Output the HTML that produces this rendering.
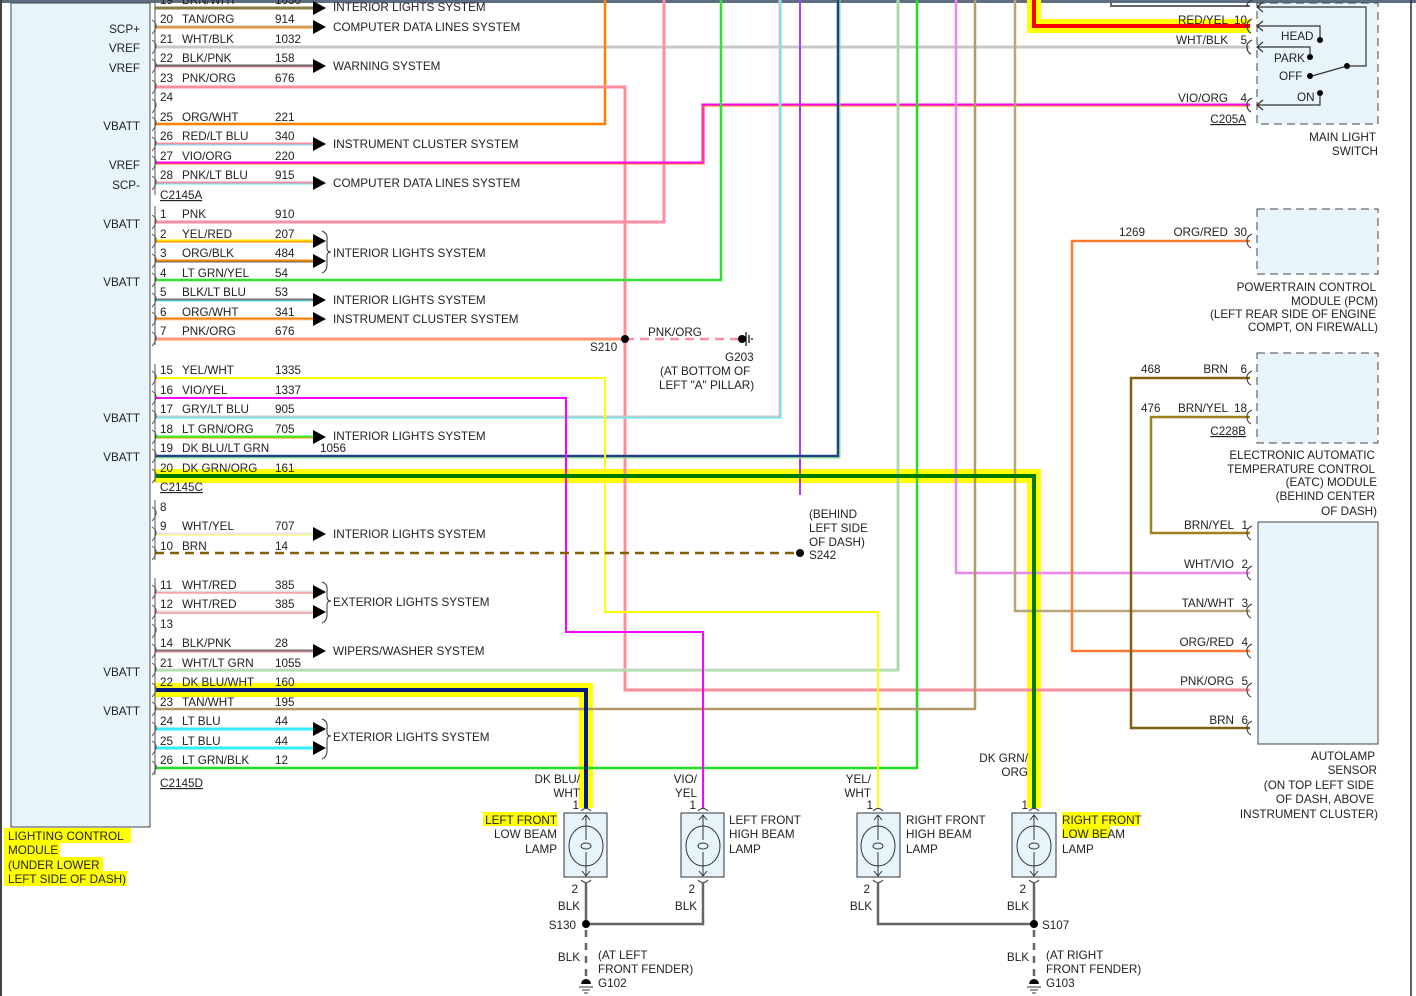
<!DOCTYPE html>
<html><head><meta charset="utf-8"><style>
html,body{margin:0;padding:0;background:#fff;}
svg{display:block;}
text{font-family:"Liberation Sans",sans-serif;font-size:11.7px;fill:#222;white-space:pre;}
.r{text-anchor:end;}
</style></head><body>
<svg width="1416" height="996" viewBox="0 0 1416 996" xmlns="http://www.w3.org/2000/svg" xml:space="preserve">
<rect x="0" y="0" width="1416" height="996" fill="#fff"/>
<rect x="0" y="0" width="1416" height="3" fill="#5c6e80"/>
<rect x="0" y="0" width="2" height="996" fill="#444"/>
<line x1="1411" y1="0" x2="1411" y2="996" stroke="#333" stroke-width="1.5"/>
<rect x="11" y="3" width="139" height="824" fill="#e8f4fb" stroke="#444" stroke-width="1"/>
<g class="r">
<text x="140" y="33" class="r">SCP+</text>
<text x="140" y="52" class="r">VREF</text>
<text x="140" y="72" class="r">VREF</text>
<text x="140" y="130" class="r">VBATT</text>
<text x="140" y="169" class="r">VREF</text>
<text x="140" y="189" class="r">SCP-</text>
<text x="140" y="228" class="r">VBATT</text>
<text x="140" y="286" class="r">VBATT</text>
<text x="140" y="422" class="r">VBATT</text>
<text x="140" y="461" class="r">VBATT</text>
<text x="140" y="676" class="r">VBATT</text>
<text x="140" y="715" class="r">VBATT</text>
</g>
<rect x="4" y="828" width="127" height="15" fill="#ffff00"/>
<rect x="4" y="843" width="56" height="14" fill="#ffff00"/>
<rect x="4" y="857" width="99" height="14" fill="#ffff00"/>
<rect x="4" y="871" width="123" height="15" fill="#ffff00"/>
<text x="8" y="840">LIGHTING CONTROL</text>
<text x="8" y="854">MODULE</text>
<text x="8" y="869">(UNDER LOWER</text>
<text x="8" y="883">LEFT SIDE OF DASH)</text>

<path d="M1034,0 V26 H1250" fill="none" stroke="#ffff00" stroke-width="14"/>
<path d="M1034,0 V26 H1250" fill="none" stroke="#ff0000" stroke-width="4"/>
<path d="M155,476 H1034 V808" fill="none" stroke="#ffff00" stroke-width="14"/>
<path d="M155,690 H586 V808" fill="none" stroke="#ffff00" stroke-width="14"/>

<path d="M1111,0 V6 H1250" fill="none" stroke="#666" stroke-width="2"/>
<path d="M155,47 H1250" stroke="#c8c8c8" stroke-width="3"/>
<path d="M155,124 H605 V0" fill="none" stroke="#ff8000" stroke-width="2.5"/>
<path d="M155,87 H625 V690 H1250" fill="none" stroke="#ff8c9c" stroke-width="3"/>
<path d="M155,222 H664 V0" fill="none" stroke="#ff8ca0" stroke-width="3"/>
<path d="M155,163 H703 V105 H1250" fill="none" stroke="#ff00ff" stroke-width="3"/>
<path d="M155,164 H703 V106 H1250" fill="none" stroke="#ff8000" stroke-width="1"/>
<path d="M155,280 H721 V0" fill="none" stroke="#33e033" stroke-width="2.5"/>
<path d="M155,417 H780 V0" fill="none" stroke="#c8c8c8" stroke-width="3"/>
<path d="M155,418 H781 V0" fill="none" stroke="#55eeff" stroke-width="1.2"/>
<path d="M800,0 V495" fill="none" stroke="#a040ff" stroke-width="2"/>
<path d="M155,456 H838 V0" fill="none" stroke="#223f88" stroke-width="2.5"/>
<path d="M155,458 H840 V0" fill="none" stroke="#77ee77" stroke-width="1"/>
<path d="M155,670 H898 V0" fill="none" stroke="#d0d0d0" stroke-width="3"/>
<path d="M155,671 H898" fill="none" stroke="#88ee88" stroke-width="1"/>
<path d="M898,0 V670" fill="none" stroke="#66ee66" stroke-width="1"/>
<path d="M155,768 H917 V0" fill="none" stroke="#22dd22" stroke-width="2.5"/>
<path d="M956,0 V573 H1250" fill="none" stroke="#ee88ee" stroke-width="2.5"/>
<path d="M155,709 H975 V0" fill="none" stroke="#b09a68" stroke-width="2.5"/>
<path d="M1015,0 V611 H1250" fill="none" stroke="#b8a478" stroke-width="2.5"/>
<path d="M1250,241 H1072 V651 H1250" fill="none" stroke="#ff7a30" stroke-width="2.5"/>
<path d="M1250,378 H1131 V728 H1250" fill="none" stroke="#806010" stroke-width="2.5"/>
<path d="M1250,417 H1151 V533 H1250" fill="none" stroke="#a08018" stroke-width="2.5"/>
<path d="M155,378 H605 V612 H878 V808" fill="none" stroke="#ffff00" stroke-width="2"/>
<path d="M155,398 H566 V632 H703 V808" fill="none" stroke="#ff00ff" stroke-width="2"/>
<path d="M155,339 H625" stroke="#ff9090" stroke-width="3"/>
<path d="M155,340 H625" stroke="#ff9a40" stroke-width="1"/>
<path d="M625,339 H742" stroke="#ff8ca0" stroke-width="2.5" stroke-dasharray="9,6"/>
<path d="M155,553 H800" stroke="#806000" stroke-width="2.5" stroke-dasharray="9,6"/>
<path d="M155,476 H1034 V808" fill="none" stroke="#007a00" stroke-width="4"/>
<path d="M155,690 H586 V808" fill="none" stroke="#001a80" stroke-width="4"/>

<g stroke-width="3">
<path d="M155,8 H313" stroke="#8a7a40"/>
<path d="M155,27 H313" stroke="#c8a878"/><path d="M155,28 H313" stroke="#ff8000" stroke-width="1"/>
<path d="M155,66 H313" stroke="#666"/><path d="M155,67 H313" stroke="#ff8ca0" stroke-width="1"/>
<path d="M155,144 H313" stroke="#ff8ca0"/><path d="M155,145 H313" stroke="#66eeff" stroke-width="1"/>
<path d="M155,183 H313" stroke="#ff8ca0"/><path d="M155,184 H313" stroke="#55eeff" stroke-width="1"/>
<path d="M155,241 H313" stroke="#ffdd00"/><path d="M155,242 H313" stroke="#ff8000" stroke-width="1"/>
<path d="M155,261 H313" stroke="#ff8000"/><path d="M155,262 H313" stroke="#666" stroke-width="1"/>
<path d="M155,300 H313" stroke="#777"/><path d="M155,301 H313" stroke="#55eeff" stroke-width="1"/>
<path d="M155,319 H313" stroke="#ff8000"/><path d="M155,320 H313" stroke="#ffd0a0" stroke-width="1"/>
<path d="M155,437 H313" stroke="#33ee33"/><path d="M155,438 H313" stroke="#ff9000" stroke-width="1"/>
<path d="M155,534 H313" stroke="#e8e8e8"/><path d="M155,535 H313" stroke="#ffff60" stroke-width="1"/>
<path d="M155,592 H313" stroke="#e0e0e0"/><path d="M155,593 H313" stroke="#ff7070" stroke-width="1"/>
<path d="M155,612 H313" stroke="#e0e0e0"/><path d="M155,613 H313" stroke="#ff7070" stroke-width="1"/>
<path d="M155,651 H313" stroke="#777"/><path d="M155,652 H313" stroke="#ff8ca0" stroke-width="1"/>
<path d="M155,729 H313" stroke="#33eeff"/>
<path d="M155,748 H313" stroke="#33eeff"/>
</g>
<g fill="#000">
<polygon points="313,1 326,8 313,15"/>
<polygon points="313,20 326,27 313,34"/>
<polygon points="313,59 326,66 313,73"/>
<polygon points="313,137 326,144 313,151"/>
<polygon points="313,176 326,183 313,190"/>
<polygon points="313,234 326,241 313,248"/>
<polygon points="313,254 326,261 313,268"/>
<polygon points="313,293 326,300 313,307"/>
<polygon points="313,312 326,319 313,326"/>
<polygon points="313,430 326,437 313,444"/>
<polygon points="313,527 326,534 313,541"/>
<polygon points="313,585 326,592 313,599"/>
<polygon points="313,605 326,612 313,619"/>
<polygon points="313,644 326,651 313,658"/>
<polygon points="313,722 326,729 313,736"/>
<polygon points="313,741 326,748 313,755"/>
</g>
<g fill="none" stroke="#333" stroke-width="1">
<path d="M322,231 Q328,233 327,240 L327,248 Q327,252 331,252 Q327,252 327,256 L327,265 Q327,271 322,273"/>
<path d="M322,582 Q328,584 327,591 L327,597 Q327,601 331,601 Q327,601 327,605 L327,615 Q327,621 322,623"/>
<path d="M322,719 Q328,721 327,728 L327,732 Q327,736 331,736 Q327,736 327,740 L327,751 Q327,757 322,759"/>
</g>
<g fill="none" stroke="#555" stroke-width="1">
<path d="M155,3 V195 M155,206 V345 M155,364 V482 M155,500 V560 M155,578 V775"/>
</g>
<g fill="none" stroke="#555" stroke-width="1">
<path d="M152,20 q5,3 4,7 q-1,4 -4,7"/><path d="M152,40 q5,3 4,7 q-1,4 -4,7"/><path d="M152,59 q5,3 4,7 q-1,4 -4,7"/><path d="M152,80 q5,3 4,7 q-1,4 -4,7"/><path d="M152,99 q5,3 4,7 q-1,4 -4,7"/><path d="M152,117 q5,3 4,7 q-1,4 -4,7"/><path d="M152,137 q5,3 4,7 q-1,4 -4,7"/><path d="M152,156 q5,3 4,7 q-1,4 -4,7"/><path d="M152,176 q5,3 4,7 q-1,4 -4,7"/>
<path d="M152,215 q5,3 4,7 q-1,4 -4,7"/><path d="M152,234 q5,3 4,7 q-1,4 -4,7"/><path d="M152,254 q5,3 4,7 q-1,4 -4,7"/><path d="M152,273 q5,3 4,7 q-1,4 -4,7"/><path d="M152,293 q5,3 4,7 q-1,4 -4,7"/><path d="M152,312 q5,3 4,7 q-1,4 -4,7"/><path d="M152,332 q5,3 4,7 q-1,4 -4,7"/>
<path d="M152,371 q5,3 4,7 q-1,4 -4,7"/><path d="M152,391 q5,3 4,7 q-1,4 -4,7"/><path d="M152,410 q5,3 4,7 q-1,4 -4,7"/><path d="M152,430 q5,3 4,7 q-1,4 -4,7"/><path d="M152,449 q5,3 4,7 q-1,4 -4,7"/><path d="M152,469 q5,3 4,7 q-1,4 -4,7"/>
<path d="M152,507 q5,3 4,7 q-1,4 -4,7"/><path d="M152,527 q5,3 4,7 q-1,4 -4,7"/><path d="M152,546 q5,3 4,7 q-1,4 -4,7"/>
<path d="M152,585 q5,3 4,7 q-1,4 -4,7"/><path d="M152,605 q5,3 4,7 q-1,4 -4,7"/><path d="M152,624 q5,3 4,7 q-1,4 -4,7"/><path d="M152,644 q5,3 4,7 q-1,4 -4,7"/><path d="M152,663 q5,3 4,7 q-1,4 -4,7"/><path d="M152,683 q5,3 4,7 q-1,4 -4,7"/><path d="M152,702 q5,3 4,7 q-1,4 -4,7"/><path d="M152,722 q5,3 4,7 q-1,4 -4,7"/><path d="M152,741 q5,3 4,7 q-1,4 -4,7"/><path d="M152,761 q5,3 4,7 q-1,4 -4,7"/>
</g>

<g>
<text x="160" y="4">19</text><text x="182" y="4">BRN/WHT</text><text x="275" y="4">1030</text>
<text x="160" y="23">20</text><text x="182" y="23">TAN/ORG</text><text x="275" y="23">914</text>
<text x="160" y="43">21</text><text x="182" y="43">WHT/BLK</text><text x="275" y="43">1032</text>
<text x="160" y="62">22</text><text x="182" y="62">BLK/PNK</text><text x="275" y="62">158</text>
<text x="160" y="82">23</text><text x="182" y="82">PNK/ORG</text><text x="275" y="82">676</text>
<text x="160" y="101">24</text>
<text x="160" y="121">25</text><text x="182" y="121">ORG/WHT</text><text x="275" y="121">221</text>
<text x="160" y="140">26</text><text x="182" y="140">RED/LT BLU</text><text x="275" y="140">340</text>
<text x="160" y="160">27</text><text x="182" y="160">VIO/ORG</text><text x="275" y="160">220</text>
<text x="160" y="179">28</text><text x="182" y="179">PNK/LT BLU</text><text x="275" y="179">915</text>
<text x="160" y="199" text-decoration="underline">C2145A</text>
<text x="160" y="218">1</text><text x="182" y="218">PNK</text><text x="275" y="218">910</text>
<text x="160" y="238">2</text><text x="182" y="238">YEL/RED</text><text x="275" y="238">207</text>
<text x="160" y="257">3</text><text x="182" y="257">ORG/BLK</text><text x="275" y="257">484</text>
<text x="160" y="277">4</text><text x="182" y="277">LT GRN/YEL</text><text x="275" y="277">54</text>
<text x="160" y="296">5</text><text x="182" y="296">BLK/LT BLU</text><text x="275" y="296">53</text>
<text x="160" y="316">6</text><text x="182" y="316">ORG/WHT</text><text x="275" y="316">341</text>
<text x="160" y="335">7</text><text x="182" y="335">PNK/ORG</text><text x="275" y="335">676</text>
<text x="160" y="374">15</text><text x="182" y="374">YEL/WHT</text><text x="275" y="374">1335</text>
<text x="160" y="394">16</text><text x="182" y="394">VIO/YEL</text><text x="275" y="394">1337</text>
<text x="160" y="413">17</text><text x="182" y="413">GRY/LT BLU</text><text x="275" y="413">905</text>
<text x="160" y="433">18</text><text x="182" y="433">LT GRN/ORG</text><text x="275" y="433">705</text>
<text x="160" y="452">19</text><text x="182" y="452">DK BLU/LT GRN</text><text x="320" y="452">1056</text>
<text x="160" y="472">20</text><text x="182" y="472">DK GRN/ORG</text><text x="275" y="472">161</text>
<text x="160" y="491" text-decoration="underline">C2145C</text>
<text x="160" y="511">8</text>
<text x="160" y="530">9</text><text x="182" y="530">WHT/YEL</text><text x="275" y="530">707</text>
<text x="160" y="550">10</text><text x="182" y="550">BRN</text><text x="275" y="550">14</text>
<text x="160" y="589">11</text><text x="182" y="589">WHT/RED</text><text x="275" y="589">385</text>
<text x="160" y="608">12</text><text x="182" y="608">WHT/RED</text><text x="275" y="608">385</text>
<text x="160" y="628">13</text>
<text x="160" y="647">14</text><text x="182" y="647">BLK/PNK</text><text x="275" y="647">28</text>
<text x="160" y="667">21</text><text x="182" y="667">WHT/LT GRN</text><text x="275" y="667">1055</text>
<text x="160" y="686">22</text><text x="182" y="686">DK BLU/WHT</text><text x="275" y="686">160</text>
<text x="160" y="706">23</text><text x="182" y="706">TAN/WHT</text><text x="275" y="706">195</text>
<text x="160" y="725">24</text><text x="182" y="725">LT BLU</text><text x="275" y="725">44</text>
<text x="160" y="745">25</text><text x="182" y="745">LT BLU</text><text x="275" y="745">44</text>
<text x="160" y="764">26</text><text x="182" y="764">LT GRN/BLK</text><text x="275" y="764">12</text>
<text x="160" y="787" text-decoration="underline">C2145D</text>
</g>
<g>
<text x="333" y="11">INTERIOR LIGHTS SYSTEM</text>
<text x="333" y="31">COMPUTER DATA LINES SYSTEM</text>
<text x="333" y="70">WARNING SYSTEM</text>
<text x="333" y="148">INSTRUMENT CLUSTER SYSTEM</text>
<text x="333" y="187">COMPUTER DATA LINES SYSTEM</text>
<text x="333" y="257">INTERIOR LIGHTS SYSTEM</text>
<text x="333" y="304">INTERIOR LIGHTS SYSTEM</text>
<text x="333" y="323">INSTRUMENT CLUSTER SYSTEM</text>
<text x="333" y="440">INTERIOR LIGHTS SYSTEM</text>
<text x="333" y="538">INTERIOR LIGHTS SYSTEM</text>
<text x="333" y="606">EXTERIOR LIGHTS SYSTEM</text>
<text x="333" y="655">WIPERS/WASHER SYSTEM</text>
<text x="333" y="741">EXTERIOR LIGHTS SYSTEM</text>
</g>

<circle cx="625" cy="339" r="4" fill="#000"/>
<text x="590" y="351">S210</text>
<text x="648" y="336">PNK/ORG</text>
<circle cx="742" cy="339" r="4" fill="#000"/>
<path d="M746,332 V346 M749,335 V343 M752,338 V340" stroke="#000" stroke-width="1.2"/>
<text x="725" y="361">G203</text>
<text x="660" y="375">(AT BOTTOM OF</text>
<text x="659" y="389">LEFT "A" PILLAR)</text>
<circle cx="800" cy="553" r="4" fill="#000"/>
<text x="809" y="518">(BEHIND</text>
<text x="809" y="532">LEFT SIDE</text>
<text x="809" y="546">OF DASH)</text>
<text x="809" y="559">S242</text>

<rect x="1257" y="3" width="121" height="121" fill="#e8f4fb" stroke="#444" stroke-dasharray="8,5"/>
<g fill="none" stroke="#333" stroke-width="1.2">
<path d="M1257,7 H1366 V66 H1347 L1312,76"/>
<path d="M1257,26 H1320 V39"/>
<path d="M1257,47 H1310 V57"/>
<path d="M1257,105 H1320 V93"/>
<path d="M1263,2 L1257,7 L1263,12 M1263,21 L1257,26 L1263,31 M1263,42 L1257,47 L1263,52 M1263,100 L1257,105 L1263,110"/>
<path d="M1252,0 q-6,3 -5,7 M1252,19 q-6,3 -5,7 q0,5 4,7 M1252,40 q-6,3 -5,7 q0,5 4,7 M1252,98 q-6,3 -5,7 q0,5 4,7"/>
</g>
<g fill="#000"><circle cx="1320" cy="40" r="3"/><circle cx="1310" cy="57" r="3"/><circle cx="1310" cy="76" r="3"/><circle cx="1347" cy="66" r="3"/><circle cx="1320" cy="93" r="3"/></g>
<text x="1281" y="40">HEAD</text>
<text x="1274" y="62">PARK</text>
<text x="1279" y="80">OFF</text>
<text x="1297" y="101">ON</text>
<text x="1228" y="24" class="r">RED/YEL</text><text x="1247" y="24" class="r">10</text>
<text x="1228" y="44" class="r">WHT/BLK</text><text x="1247" y="44" class="r">5</text>
<text x="1228" y="102" class="r">VIO/ORG</text><text x="1247" y="102" class="r">4</text>
<text x="1246" y="123" class="r" text-decoration="underline">C205A</text>
<text x="1376" y="141" class="r">MAIN LIGHT</text>
<text x="1378" y="155" class="r">SWITCH</text>

<rect x="1257" y="209" width="121" height="65" fill="#e8f4fb" stroke="#444" stroke-dasharray="8,5"/>
<path d="M1252,234 q-6,3 -5,7 q0,5 4,7" fill="none" stroke="#333"/>
<text x="1119" y="236">1269</text>
<text x="1228" y="236" class="r">ORG/RED</text><text x="1247" y="236" class="r">30</text>
<text x="1376" y="291" class="r">POWERTRAIN CONTROL</text>
<text x="1378" y="305" class="r">MODULE (PCM)</text>
<text x="1376" y="318" class="r">(LEFT REAR SIDE OF ENGINE</text>
<text x="1378" y="331" class="r">COMPT, ON FIREWALL)</text>

<rect x="1257" y="353" width="121" height="90" fill="#e8f4fb" stroke="#444" stroke-dasharray="8,5"/>
<path d="M1252,371 q-6,3 -5,7 q0,5 4,7 M1252,410 q-6,3 -5,7 q0,5 4,7" fill="none" stroke="#333"/>
<text x="1141" y="373">468</text>
<text x="1228" y="373" class="r">BRN</text><text x="1247" y="373" class="r">6</text>
<text x="1141" y="412">476</text>
<text x="1228" y="412" class="r">BRN/YEL</text><text x="1247" y="412" class="r">18</text>
<text x="1246" y="435" class="r" text-decoration="underline">C228B</text>
<text x="1375" y="459" class="r">ELECTRONIC AUTOMATIC</text>
<text x="1375" y="473" class="r">TEMPERATURE CONTROL</text>
<text x="1377" y="486" class="r">(EATC) MODULE</text>
<text x="1375" y="500" class="r">(BEHIND CENTER</text>
<text x="1377" y="515" class="r">OF DASH)</text>

<rect x="1258" y="522" width="120" height="222" fill="#e8f4fb" stroke="#444"/>
<g fill="none" stroke="#333">
<path d="M1252,526 q-6,3 -5,7 q0,5 4,7 M1252,566 q-6,3 -5,7 q0,5 4,7 M1252,604 q-6,3 -5,7 q0,5 4,7 M1252,644 q-6,3 -5,7 q0,5 4,7 M1252,683 q-6,3 -5,7 q0,5 4,7 M1252,721 q-6,3 -5,7 q0,5 4,7"/>
</g>
<text x="1234" y="529" class="r">BRN/YEL</text><text x="1248" y="529" class="r">1</text>
<text x="1234" y="568" class="r">WHT/VIO</text><text x="1248" y="568" class="r">2</text>
<text x="1234" y="607" class="r">TAN/WHT</text><text x="1248" y="607" class="r">3</text>
<text x="1234" y="646" class="r">ORG/RED</text><text x="1248" y="646" class="r">4</text>
<text x="1234" y="685" class="r">PNK/ORG</text><text x="1248" y="685" class="r">5</text>
<text x="1234" y="724" class="r">BRN</text><text x="1248" y="724" class="r">6</text>
<text x="1375" y="760" class="r">AUTOLAMP</text>
<text x="1377" y="774" class="r">SENSOR</text>
<text x="1374" y="789" class="r">(ON TOP LEFT SIDE</text>
<text x="1374" y="803" class="r">OF DASH, ABOVE</text>
<text x="1378" y="818" class="r">INSTRUMENT CLUSTER)</text>

<text x="580" y="783" class="r">DK BLU/</text><text x="580" y="797" class="r">WHT</text><text x="579" y="809" class="r">1</text>
<text x="697" y="783" class="r">VIO/</text><text x="697" y="797" class="r">YEL</text><text x="696" y="809" class="r">1</text>
<text x="871" y="783" class="r">YEL/</text><text x="871" y="797" class="r">WHT</text><text x="873" y="809" class="r">1</text>
<text x="1028" y="762" class="r">DK GRN/</text><text x="1028" y="776" class="r">ORG</text><text x="1028" y="809" class="r">1</text>

<g fill="none" stroke="#333" stroke-width="1">
<rect x="564" y="813" width="43" height="64" fill="#e8f4fb"/>
<rect x="681" y="813" width="43" height="64" fill="#e8f4fb"/>
<rect x="857" y="813" width="43" height="64" fill="#e8f4fb"/>
<rect x="1012" y="813" width="44" height="64" fill="#e8f4fb"/>
<ellipse cx="586" cy="846" rx="17" ry="20"/><ellipse cx="703" cy="846" rx="17" ry="20"/><ellipse cx="878" cy="846" rx="17" ry="20"/><ellipse cx="1034" cy="846" rx="17" ry="20"/>
<ellipse cx="586" cy="846" rx="5" ry="3"/><ellipse cx="703" cy="846" rx="5" ry="3"/><ellipse cx="878" cy="846" rx="5" ry="3"/><ellipse cx="1034" cy="846" rx="5" ry="3"/>
<path d="M586,815 V840 M586,852 V876 M582,820 L586,815 L590,820 M582,871 L586,876 L590,871"/>
<path d="M703,815 V840 M703,852 V876 M699,820 L703,815 L707,820 M699,871 L703,876 L707,871"/>
<path d="M878,815 V840 M878,852 V876 M874,820 L878,815 L882,820 M874,871 L878,876 L882,871"/>
<path d="M1034,815 V840 M1034,852 V876 M1030,820 L1034,815 L1038,820 M1030,871 L1034,876 L1038,871"/>
<path d="M581,811 q5,-5 10,0 M698,811 q5,-5 10,0 M873,811 q5,-5 10,0 M1029,811 q5,-5 10,0"/>
<path d="M581,880 q5,5 10,0 M698,880 q5,5 10,0 M873,880 q5,5 10,0 M1029,880 q5,5 10,0"/>
</g>
<rect x="483" y="812" width="74" height="14" fill="#ffff00"/>
<rect x="1062" y="812" width="78" height="14" fill="#ffff00"/>
<rect x="1062" y="826" width="48" height="12" fill="#ffff00"/>
<text x="557" y="824" class="r">LEFT FRONT</text><text x="557" y="838" class="r">LOW BEAM</text><text x="557" y="853" class="r">LAMP</text>
<text x="729" y="824">LEFT FRONT</text><text x="729" y="838">HIGH BEAM</text><text x="729" y="853">LAMP</text>
<text x="906" y="824">RIGHT FRONT</text><text x="906" y="838">HIGH BEAM</text><text x="906" y="853">LAMP</text>
<text x="1062" y="824">RIGHT FRONT</text><text x="1062" y="838">LOW BEAM</text><text x="1062" y="853">LAMP</text>

<g fill="none" stroke="#666" stroke-width="2.5">
<path d="M586,882 V924 H703 V882"/>
<path d="M878,882 V924 H1034 V882"/>
</g>
<g stroke="#666" stroke-width="2.5" stroke-dasharray="7,6">
<path d="M586,930 V980"/><path d="M1034,930 V980"/>
</g>
<circle cx="586" cy="924" r="4" fill="#000"/><circle cx="1034" cy="924" r="4" fill="#000"/>
<g fill="#000"><path d="M581,984 a5,5 0 0 1 10,0 z"/><path d="M1029,984 a5,5 0 0 1 10,0 z"/></g>
<path d="M579,987 H593 M582,990 H590 M584,993 H588 M1027,987 H1041 M1030,990 H1038 M1032,993 H1036" stroke="#333"/>
<text x="578" y="893" class="r">2</text><text x="695" y="893" class="r">2</text><text x="870" y="893" class="r">2</text><text x="1026" y="893" class="r">2</text>
<text x="580" y="910" class="r">BLK</text><text x="697" y="910" class="r">BLK</text><text x="872" y="910" class="r">BLK</text><text x="1029" y="910" class="r">BLK</text>
<text x="576" y="929" class="r">S130</text><text x="1042" y="929">S107</text>
<text x="580" y="961" class="r">BLK</text><text x="1029" y="961" class="r">BLK</text>
<text x="598" y="959">(AT LEFT</text><text x="598" y="973">FRONT FENDER)</text><text x="598" y="987">G102</text>
<text x="1046" y="959">(AT RIGHT</text><text x="1046" y="973">FRONT FENDER)</text><text x="1046" y="987">G103</text>
</svg>
</body></html>
